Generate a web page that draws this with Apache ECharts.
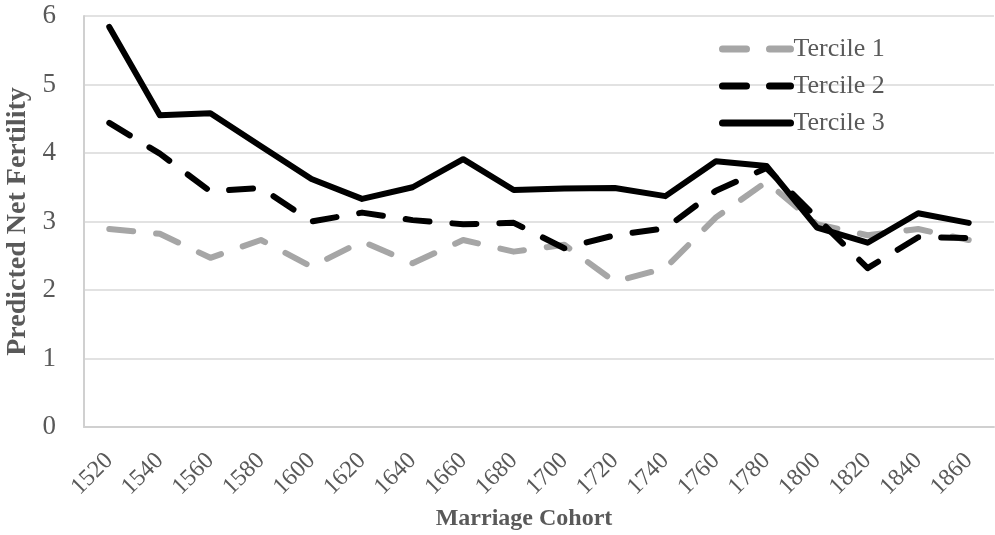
<!DOCTYPE html>
<html><head><meta charset="utf-8">
<script src="https://cdn.jsdelivr.net/npm/echarts@6/dist/echarts.min.js"></script>
<style>html,body{margin:0;padding:0;background:#fff}#c{width:995px;height:535px}</style>
</head><body><div id="c"></div>
<script>
const categories = ['1520','1540','1560','1580','1600','1620','1640','1660','1680','1700','1720','1740','1760','1780','1800','1820','1840','1860'];
const tercile1 = [2.89,2.82,2.47,2.73,2.34,2.71,2.39,2.73,2.56,2.66,2.12,2.32,3.06,3.58,2.96,2.80,2.89,2.73];
const tercile2 = [4.44,3.99,3.44,3.49,3.00,3.13,3.02,2.96,2.98,2.61,2.80,2.90,3.45,3.78,3.05,2.32,2.77,2.76];
const tercile3 = [5.84,4.55,4.58,4.10,3.62,3.33,3.50,3.91,3.46,3.48,3.49,3.37,3.88,3.81,2.91,2.69,3.12,2.98];
const yTicks = [0,1,2,3,4,5,6];
const seriesNames = ['Tercile 1','Tercile 2','Tercile 3'];

const font = "'Liberation Serif', 'DejaVu Serif', serif";
const chart = echarts.init(document.getElementById('c'), null, {renderer:'canvas'});
chart.setOption({
  animation:false,
  textStyle:{fontFamily:font},
  grid:{left:84,right:1,top:16,bottom:108,containLabel:false,outerBoundsMode:'none'},
  legend:{
    data:seriesNames, orient:'vertical', left:714, top:31,
    itemWidth:68, itemHeight:14, itemGap:11,
    itemStyle:{opacity:0},
    lineStyle:{width:7,cap:'round'},
    textStyle:{fontFamily:font,fontSize:26,color:'#595959',padding:[0,0,0,-2]}
  },
  xAxis:{
    type:'category', data:categories, boundaryGap:true,
    name:'Marriage Cohort', nameLocation:'middle', nameGap:69,
    nameTextStyle:{fontFamily:font,fontSize:24,fontWeight:'bold',color:'#595959',padding:[0,30,0,0]},
    axisLine:{show:true,lineStyle:{color:'#D0D0D0',width:2}},
    axisTick:{show:false},
    axisLabel:{rotate:45,fontSize:24,color:'#595959',margin:30,fontFamily:font}
  },
  yAxis:{
    type:'value', min:0, max:6, interval:1,
    name:'Predicted Net Fertility', nameLocation:'middle', nameGap:39,
    nameTextStyle:{fontFamily:font,fontSize:28,fontWeight:'bold',color:'#595959'},
    axisLine:{show:true,lineStyle:{color:'#D0D0D0',width:2}},
    axisTick:{show:false},
    splitLine:{lineStyle:{color:'#D9D9D9',width:1.5}},
    axisLabel:{fontSize:27,color:'#595959',margin:28,fontFamily:font,
      formatter:v=>yTicks.includes(v)?String(v):''}
  },
  series:[
    {name:seriesNames[0],type:'line',data:tercile1,symbol:'none',
     lineStyle:{color:'#A6A6A6',width:6,type:[24,23],cap:'round',join:'round'},itemStyle:{color:'#A6A6A6'},z:2},
    {name:seriesNames[1],type:'line',data:tercile2,symbol:'none',
     lineStyle:{color:'#000000',width:6,type:[24,23],cap:'round',join:'round'},itemStyle:{color:'#000000'},z:3},
    {name:seriesNames[2],type:'line',data:tercile3,symbol:'none',
     lineStyle:{color:'#000000',width:6,type:'solid',cap:'round',join:'round'},itemStyle:{color:'#000000'},z:4}
  ]
});
</script></body></html>
